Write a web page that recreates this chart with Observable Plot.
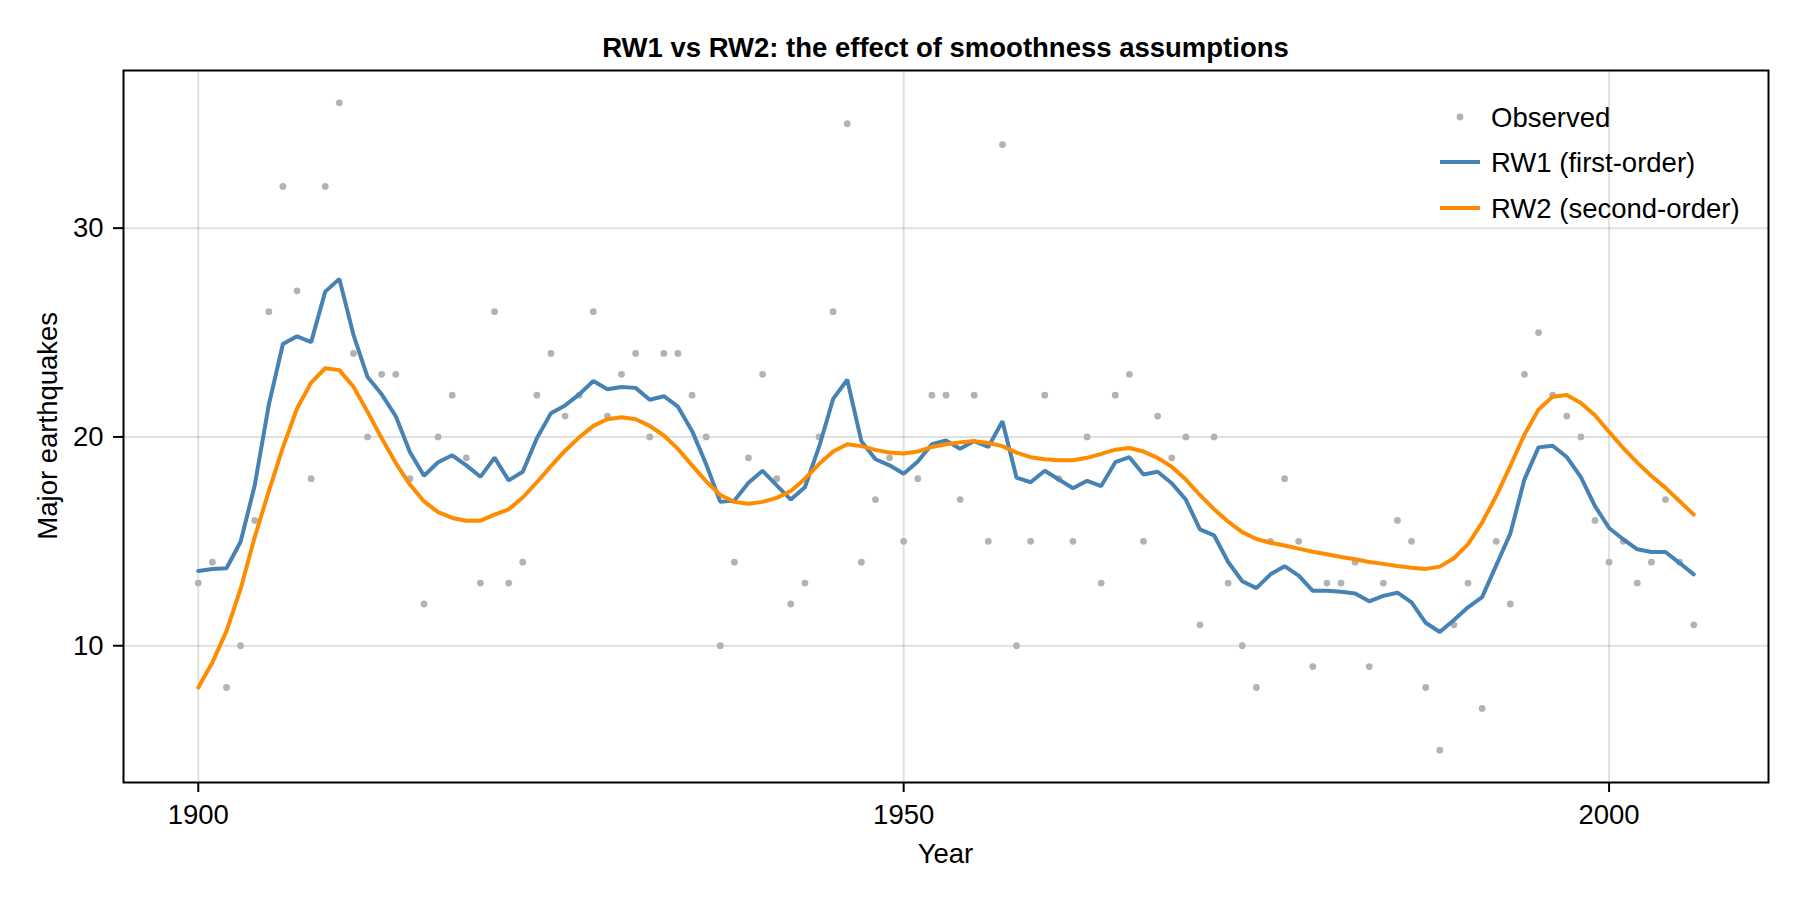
<!DOCTYPE html>
<html>
<head>
<meta charset="utf-8">
<script src="https://cdn.jsdelivr.net/npm/d3@7"></script>
<script src="https://cdn.jsdelivr.net/npm/@observablehq/plot@0.6"></script>
<style>
  html, body { margin: 0; padding: 0; background: #fff; }
  #wrap { position: relative; width: 1800px; height: 900px; font-family: "Liberation Sans", Arial, Helvetica, sans-serif; color: #000; }
  .lbl { position: absolute; font-size: 27.5px; line-height: 27.5px; white-space: nowrap; }
  #title { font-weight: bold; left: 123px; width: 1645px; text-align: center; top: 34px; }
  #xlabel { left: 123px; width: 1645px; text-align: center; top: 840px; }
  #ylabel { left: -152px; width: 400px; text-align: center; top: 412px; transform: rotate(-90deg); }
  .legrow { position: absolute; left: 1436px; height: 28px; }
  .legrow svg { position: absolute; left: 0; top: 0; }
  .legrow span { position: absolute; left: 55px; top: 1px; font-size: 27.5px; line-height: 27.5px; white-space: nowrap; }
</style>
</head>
<body>
<div id="wrap">
  <div id="chart"></div>
</div>
<script>
// ---- data ----
const years = d3.range(1900, 2007);

const observed = [
  13, 14, 8, 10, 16, 26, 32, 27, 18, 32,
  36, 24, 20, 23, 23, 18, 12, 20, 22, 19,
  13, 26, 13, 14, 22, 24, 21, 22, 26, 21,
  23, 24, 20, 24, 24, 22, 20, 10, 14, 19,
  23, 18, 12, 13, 20, 26, 35, 14, 17, 19,
  15, 18, 22, 22, 17, 22, 15, 34, 10, 15,
  22, 18, 15, 20, 13, 22, 23, 15, 21, 19,
  20, 11, 20, 13, 10, 8, 15, 18, 15, 9,
  13, 13, 14, 9, 13, 16, 15, 8, 5, 11,
  13, 7, 15, 12, 23, 25, 22, 21, 20, 16,
  14, 15, 13, 14, 17, 14, 11
];

const rw1 = [
  13.58, 13.68, 13.71, 14.98, 17.68, 21.54, 24.45, 24.82, 24.54, 26.96,
  27.57, 24.89, 22.87, 22.04, 20.99, 19.28, 18.14, 18.79, 19.12, 18.64,
  18.09, 19.01, 17.92, 18.33, 19.94, 21.14, 21.51, 22.04, 22.68, 22.28,
  22.39, 22.35, 21.78, 21.95, 21.45, 20.29, 18.69, 16.89, 16.95, 17.81,
  18.38, 17.68, 17.00, 17.59, 19.52, 21.82, 22.74, 19.80, 18.93, 18.64,
  18.24, 18.82, 19.65, 19.83, 19.43, 19.80, 19.52, 20.75, 18.05, 17.83,
  18.38, 17.96, 17.54, 17.90, 17.65, 18.79, 19.03, 18.20, 18.33, 17.78,
  17.00, 15.57, 15.29, 14.01, 13.09, 12.76, 13.42, 13.81, 13.36, 12.63,
  12.63, 12.59, 12.50, 12.13, 12.39, 12.54, 12.08, 11.10, 10.66, 11.23,
  11.84, 12.33, 13.85, 15.37, 17.97, 19.50, 19.58, 19.04, 18.08, 16.69,
  15.64, 15.10, 14.62, 14.49, 14.49, 13.96, 13.42
];

const rw2 = [
  8.00, 9.20, 10.70, 12.72, 15.20, 17.40, 19.50, 21.36, 22.60, 23.29,
  23.20, 22.40, 21.20, 19.94, 18.75, 17.72, 16.91, 16.40, 16.12, 15.99,
  15.99, 16.28, 16.53, 17.10, 17.83, 18.60, 19.34, 19.98, 20.53, 20.85,
  20.94, 20.85, 20.53, 20.07, 19.43, 18.64, 17.87, 17.22, 16.89, 16.80,
  16.89, 17.08, 17.41, 18.00, 18.70, 19.30, 19.65, 19.56, 19.38, 19.25,
  19.21, 19.30, 19.52, 19.65, 19.74, 19.80, 19.71, 19.56, 19.25, 19.03,
  18.93, 18.88, 18.88, 19.00, 19.19, 19.39, 19.47, 19.30, 19.00, 18.57,
  17.96, 17.22, 16.54, 15.94, 15.44, 15.11, 14.93, 14.80, 14.65, 14.50,
  14.38, 14.25, 14.14, 14.01, 13.92, 13.82, 13.73, 13.68, 13.79, 14.19,
  14.87, 15.90, 17.17, 18.61, 20.11, 21.31, 21.93, 22.01, 21.63, 21.04,
  20.24, 19.47, 18.77, 18.13, 17.56, 16.92, 16.28
];

const xTicks = [1900, 1950, 2000];
const yTicks = [10, 20, 30];

const titleText = "RW1 vs RW2: the effect of smoothness assumptions";
const xLabel = "Year";
const yLabel = "Major earthquakes";

const seriesNames = ["Observed", "RW1 (first-order)", "RW2 (second-order)"];
const colors = { obs: "#b3b3b3", rw1: "#4682b4", rw2: "#ff8c00" };

// ---- table built from arrays ----
const data = years.map((y, i) => ({ year: y, obs: observed[i], rw1: rw1[i], rw2: rw2[i] }));

// Makie-style 5% padding on limits
const xExt = d3.extent(years), xPad = (xExt[1] - xExt[0]) * 0.05;
const yExt = d3.extent(observed), yPad = (yExt[1] - yExt[0]) * 0.05;

const chart = Plot.plot({
  width: 1800,
  height: 900,
  marginLeft: 123,
  marginRight: 32,
  marginTop: 70,
  marginBottom: 118,
  style: { fontFamily: '"Liberation Sans", Arial, Helvetica, sans-serif', fontSize: "27.5px", color: "#000", background: "#fff" },
  x: { domain: [xExt[0] - xPad, xExt[1] + xPad] },
  y: { domain: [yExt[0] - yPad, yExt[1] + yPad] },
  marks: [
    Plot.gridX(xTicks, { stroke: "#000", strokeOpacity: 0.12, strokeWidth: 2 }),
    Plot.gridY(yTicks, { stroke: "#000", strokeOpacity: 0.12, strokeWidth: 2 }),
    Plot.dot(data, { x: "year", y: "obs", r: 3.4, fill: colors.obs, stroke: "none" }),
    Plot.line(data, { x: "year", y: "rw1", stroke: colors.rw1, strokeWidth: 4, strokeLinejoin: "miter" }),
    Plot.line(data, { x: "year", y: "rw2", stroke: colors.rw2, strokeWidth: 4, strokeLinejoin: "miter" }),
    Plot.frame({ stroke: "#000", strokeWidth: 2 }),
    Plot.axisX(xTicks, { tickFormat: d3.format("d"), tickSize: 10, tickPadding: 12, strokeWidth: 2, label: null }),
    Plot.axisY(yTicks, { tickFormat: d3.format("d"), tickSize: 10, tickPadding: 10, strokeWidth: 2, label: null })
  ]
});
document.getElementById("chart").appendChild(chart);

// ---- title, axis labels, legend as real text ----
const wrap = document.getElementById("wrap");
function addDiv(id, cls, text) {
  const d = document.createElement("div");
  if (id) d.id = id;
  d.className = cls;
  d.textContent = text;
  wrap.appendChild(d);
  return d;
}
addDiv("title", "lbl", titleText);
addDiv("xlabel", "lbl", xLabel);
addDiv("ylabel", "lbl", yLabel);

const legendKinds = ["dot", "line", "line"];
const legendColors = [colors.obs, colors.rw1, colors.rw2];
const rowTops = [103, 148, 194];
seriesNames.forEach((name, i) => {
  const row = document.createElement("div");
  row.className = "legrow";
  row.style.top = rowTops[i] + "px";
  const svg = d3.create("svg").attr("width", 50).attr("height", 28);
  if (legendKinds[i] === "dot") {
    svg.append("circle").attr("cx", 24).attr("cy", 14).attr("r", 3.4).attr("fill", legendColors[i]);
  } else {
    svg.append("line").attr("x1", 4).attr("x2", 44).attr("y1", 14).attr("y2", 14)
      .attr("stroke", legendColors[i]).attr("stroke-width", 4);
  }
  row.appendChild(svg.node());
  const s = document.createElement("span");
  s.textContent = name;
  row.appendChild(s);
  wrap.appendChild(row);
});
</script>
</body>
</html>
